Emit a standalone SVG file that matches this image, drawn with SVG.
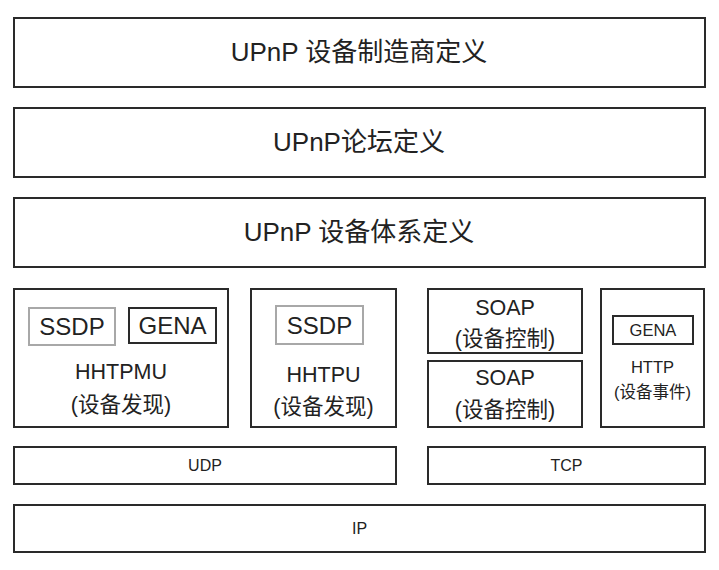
<svg xmlns="http://www.w3.org/2000/svg" width="719" height="570" viewBox="0 0 719 570">
<style>
.box{fill:#fff;stroke:#2a2a2a;stroke-width:2}
.gbox{fill:#fff;stroke:#a8a8a8;stroke-width:2}
text{font-family:"Liberation Sans","Noto Sans CJK SC",sans-serif;fill:#222;text-anchor:middle;dominant-baseline:central}
.t1{font-size:26px}
.t2{font-size:24px}
.t3{font-size:21.500px}
.t4{font-size:16.500px}
.t5{font-size:16px}
</style>
<rect width="719" height="570" fill="#fff"/>
<g id="vendor"><rect class="box" x="14" y="18" width="691" height="69"/><text class="t1" x="359" y="52">UPnP 设备制造商定义</text></g>
<g id="forum"><rect class="box" x="14" y="108" width="691" height="69"/><text class="t1" x="359" y="142">UPnP论坛定义</text></g>
<g id="arch"><rect class="box" x="14" y="198" width="691" height="69"/><text class="t1" x="359" y="232">UPnP 设备体系定义</text></g>
<g id="hhtpmu">
<rect class="box" x="14" y="289" width="214" height="138"/>
<rect class="gbox" x="29" y="308" width="86" height="37"/>
<text class="t2" x="72" y="326.500">SSDP</text>
<rect class="box" x="129" y="308" width="87" height="35"/>
<text class="t2" x="172.500" y="325.500">GENA</text>
<text class="t3" x="121" y="372">HHTPMU</text>
<text class="t3" x="121" y="405">(设备发现)</text>
</g>
<g id="hhtpu">
<rect class="box" x="251" y="289" width="145" height="138"/>
<rect class="gbox" x="276" y="306" width="87" height="38"/>
<text class="t2" x="319.500" y="325">SSDP</text>
<text class="t3" x="323.500" y="375">HHTPU</text>
<text class="t3" x="323.500" y="407">(设备发现)</text>
</g>
<g id="soap1">
<rect class="box" x="428" y="289" width="154" height="64"/>
<text class="t3" x="505" y="308">SOAP</text>
<text class="t3" x="505" y="339">(设备控制)</text>
</g>
<g id="soap2">
<rect class="box" x="428" y="361" width="154" height="66"/>
<text class="t3" x="505" y="378">SOAP</text>
<text class="t3" x="505" y="410">(设备控制)</text>
</g>
<g id="http">
<rect class="box" x="601" y="289" width="103" height="138"/>
<rect class="box" x="613" y="316" width="80" height="28"/>
<text class="t4" x="653" y="330">GENA</text>
<text class="t4" x="652.500" y="367">HTTP</text>
<text class="t4" x="652.500" y="392">(设备事件)</text>
</g>
<g id="udp"><rect class="box" x="14" y="447" width="382" height="37"/><text class="t5" x="205" y="465.500">UDP</text></g>
<g id="tcp"><rect class="box" x="428" y="447" width="277" height="37"/><text class="t5" x="566.500" y="465.500">TCP</text></g>
<g id="ip"><rect class="box" x="14" y="505" width="691" height="47"/><text class="t5" x="359.500" y="528.500">IP</text></g>
<g id="connectors"></g>
</svg>
